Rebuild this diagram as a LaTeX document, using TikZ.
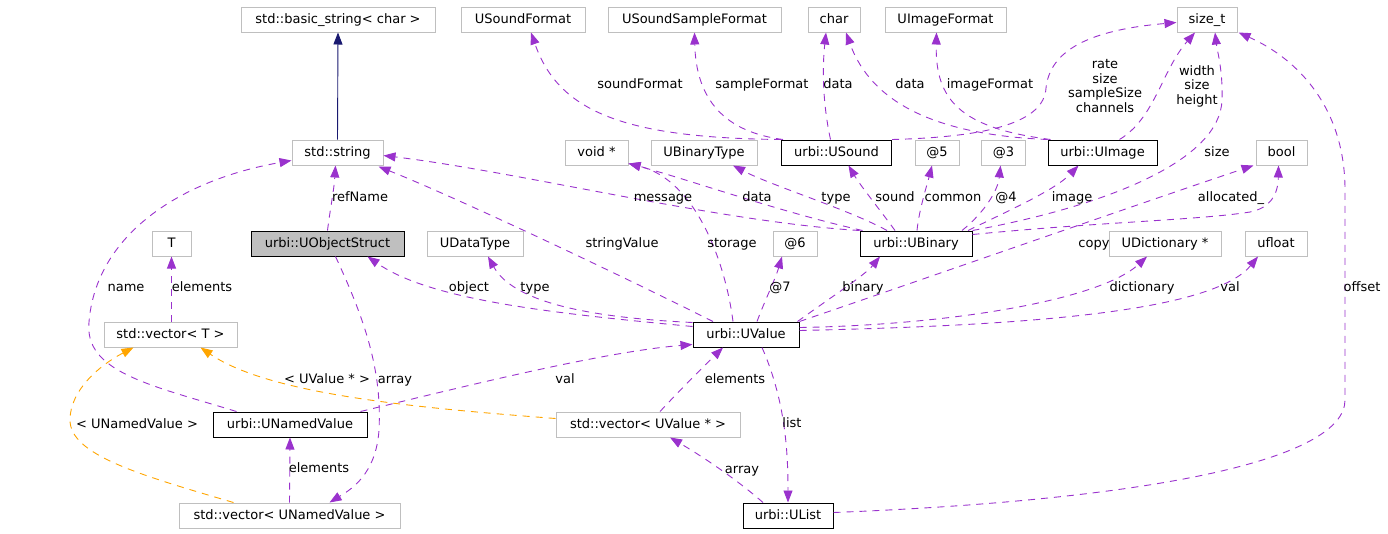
\documentclass[tikz,border=0pt]{standalone}
\usepackage{fontspec}
\setmainfont{DejaVu Sans}
\usetikzlibrary{arrows.meta}
\definecolor{edgepurple}{HTML}{9A32CD}
\definecolor{tmplorange}{HTML}{FFA500}
\definecolor{inhnavy}{HTML}{191970}
\definecolor{boxgrey}{HTML}{BFBFBF}
\begin{document}
\begin{tikzpicture}[x=1pt,y=-1pt,
  every node/.style={font=\fontsize{13}{15}\selectfont},
  cls/.style={draw=boxgrey, line width=1pt, minimum height=25pt, inner sep=0pt, text height=10pt, text depth=2pt},
  ucls/.style={cls, draw=black},
  mainc/.style={cls, draw=black, fill=boxgrey},
  lbl/.style={inner sep=0pt, text height=10pt, text depth=2pt},
  mlbl/.style={inner sep=0pt, align=center, font=\fontsize{13}{14.5}\selectfont},
  rel/.style={draw=edgepurple, line width=0.9pt, dash pattern=on 7pt off 6pt, -{Triangle[length=12pt,width=9pt]}},
  tmpl/.style={rel, draw=tmplorange},
  inh/.style={draw=inhnavy, line width=0.9pt, -{Triangle[length=12pt,width=9pt]}},
]
\useasboundingbox (0,0) rectangle (1388,533);

% row 1
\node[cls, minimum width=194pt] (bstr) at (338,19.5) {std::basic\_string< char >};
\node[cls, minimum width=124pt] (usf) at (523,19.5) {USoundFormat};
\node[cls, minimum width=173pt] (ussf) at (694.5,19.5) {USoundSampleFormat};
\node[cls, minimum width=52pt] (chr) at (834,19.5) {char};
\node[cls, minimum width=121pt] (uif) at (945.5,19.5) {UImageFormat};
\node[cls, minimum width=60pt] (szt) at (1207,19.5) {size\_t};
% row 2
\node[cls, minimum width=91pt] (str) at (337.5,152.5) {std::string};
\node[cls, minimum width=63pt] (vptr) at (596.5,152.5) {void *};
\node[cls, minimum width=106pt] (ubt) at (704,152.5) {UBinaryType};
\node[ucls, minimum width=110pt] (usnd) at (836.5,152.5) {urbi::USound};
\node[cls, minimum width=44pt] (a5) at (937,152.5) {@5};
\node[cls, minimum width=44pt] (a3) at (1003.5,152.5) {@3};
\node[ucls, minimum width=109pt] (uimg) at (1102.5,152.5) {urbi::UImage};
\node[cls, minimum width=51pt] (bool) at (1281.5,152.5) {bool};
% row 3
\node[cls, minimum width=39pt] (T) at (171.5,243.5) {T};
\node[mainc, minimum width=153pt] (uos) at (327.5,243.5) {urbi::UObjectStruct};
\node[cls, minimum width=96pt] (udt) at (475,243.5) {UDataType};
\node[cls, minimum width=44pt] (a6) at (795,243.5) {@6};
\node[ucls, minimum width=112pt] (ubin) at (916,243.5) {urbi::UBinary};
\node[cls, minimum width=112pt] (udict) at (1165,243.5) {UDictionary *};
\node[cls, minimum width=62pt] (ufl) at (1276,243.5) {ufloat};
% row 4
\node[cls, minimum width=133pt] (vecT) at (170.5,334.5) {std::vector< T >};
\node[ucls, minimum width=106pt] (uval) at (746,334.5) {urbi::UValue};
% row 5
\node[ucls, minimum width=154pt] (unv) at (290,424.5) {urbi::UNamedValue};
\node[cls, minimum width=184pt] (vecUV) at (648,424.5) {std::vector< UValue * >};
% row 6
\node[cls, minimum width=221pt] (vecUNV) at (289.5,515.5) {std::vector< UNamedValue >};
\node[ucls, minimum width=90pt] (ulist) at (788,515.5) {urbi::UList};

% inheritance
\draw[inh] (str.north) -- (bstr.south);

% USound members
\draw[rel] (usnd.north west) .. controls (620,138) and (558,110) .. ([xshift=8pt]usf.south);
\draw[rel] ([xshift=2pt]usnd.north west) .. controls (725,132) and (696,100) .. (ussf.south);
\draw[rel] ([xshift=-6pt]usnd.north) .. controls (823,105) and (822,70) .. ([xshift=-8pt]chr.south);
\draw[rel] (usnd.north east) .. controls (990,137) and (1044,122) .. (1046,88) .. controls (1050,50) and (1090,30) .. ([yshift=-3pt]szt.west);

% UImage members
\draw[rel] (uimg.north west) .. controls (940,135) and (872,105) .. ([xshift=12pt]chr.south);
\draw[rel] ([xshift=3pt]uimg.north west) .. controls (960,128) and (935,100) .. ([xshift=-9pt]uif.south);
\draw[rel] ([xshift=17pt]uimg.north) .. controls (1155,118) and (1162,70) .. ([xshift=-12pt]szt.south);

% UBinary members
\draw[rel] (ubin.north east) .. controls (1110,205) and (1220,160) .. (1222,100) .. controls (1223,70) and (1217,50) .. ([xshift=8pt]szt.south);
\draw[rel] (ubin.north west) .. controls (720,222) and (520,172) .. ([yshift=-3pt]str.east);
\draw[rel] ([xshift=3pt]ubin.north west) .. controls (780,212) and (690,180) .. ([yshift=2pt]vptr.south east);
\draw[rel] ([xshift=-29pt]ubin.north) .. controls (850,210) and (770,185) .. ([xshift=29pt]ubt.south);
\draw[rel] ([xshift=-21pt]ubin.north) .. controls (880,210) and (860,185) .. ([xshift=12pt]usnd.south);
\draw[rel] ([xshift=1pt]ubin.north) .. controls (919,210) and (927,185) .. ([xshift=-5pt]a5.south);
\draw[rel] ([xshift=46pt]ubin.north) .. controls (985,212) and (998,190) .. ([xshift=-3pt]a3.south);
\draw[rel] ([xshift=52pt]ubin.north) .. controls (1010,210) and (1055,190) .. ([xshift=-24pt]uimg.south);
\draw[rel] ([yshift=-4pt]ubin.north east) .. controls (1100,222) and (1200,220) .. (1250,212) .. controls (1270,208) and (1278,195) .. ([xshift=-3pt]bool.south);

% UValue members
\draw[rel] (uval.north east) .. controls (950,270) and (1150,200) .. ([xshift=-2pt]bool.south west);
\draw[rel] ([xshift=-33pt]uval.north) .. controls (600,265) and (450,195) .. ([xshift=-5pt,yshift=-1pt]str.south east);
\draw[rel] ([xshift=-13pt]uval.north) .. controls (725,260) and (695,180) .. ([yshift=2pt]vptr.south east);
\draw[rel] ([yshift=-5pt]uval.north west) .. controls (550,313) and (430,300) .. ([xshift=40pt]uos.south);
\draw[rel] ([yshift=-1pt]uval.north west) .. controls (600,318) and (515,305) .. ([xshift=13pt]udt.south);
\draw[rel] ([xshift=11pt]uval.north) .. controls (765,300) and (775,280) .. ([xshift=-13pt]a6.south);
\draw[rel] ([xshift=-2pt]uval.north east) .. controls (830,298) and (865,275) .. ([xshift=-36pt]ubin.south);
\draw[rel] ([yshift=-6pt]uval.north east) .. controls (950,325) and (1100,300) .. ([xshift=-18pt]udict.south);
\draw[rel] ([yshift=-9pt]uval.north east) .. controls (1000,326) and (1210,315) .. ([xshift=-18pt]ufl.south);
\draw[rel] ([xshift=16pt]uval.south) .. controls (785,400) and (788,450) .. (ulist.north);

% UNamedValue members
\draw[rel] ([xshift=-7pt]unv.north east) .. controls (450,390) and (600,352) .. ([yshift=3pt]uval.south west);
\draw[rel] ([xshift=24pt]unv.north west) .. controls (150,385) and (84,372) .. (89,322) .. controls (96,235) and (180,180) .. ([yshift=-8pt]str.west);

% vectors
\draw[rel] ([xshift=12pt]vecUV.north) .. controls (680,390) and (705,365) .. ([xshift=-23pt]uval.south);
\draw[tmpl] ([yshift=6pt]vecUV.west) .. controls (420,408) and (270,395) .. ([xshift=30pt]vecT.south);
\draw[rel] ([xshift=1pt]vecT.north) -- (T.south);
\draw[rel] (vecUNV.north) -- (unv.south);
\draw[tmpl] ([xshift=-56pt]vecUNV.north) .. controls (140,475) and (70,455) .. (70,420) .. controls (70,390) and (100,365) .. ([xshift=-37pt]vecT.south);

% UList members
\draw[rel] ([xshift=-25pt]ulist.north) .. controls (735,478) and (700,455) .. ([xshift=22pt]vecUV.south);
\draw[rel] ([yshift=3pt]ulist.east) .. controls (1150,500) and (1345,460) .. (1345,400) -- (1345,190) .. controls (1345,110) and (1300,60) .. ([xshift=1pt]szt.south east);

% UObjectStruct members
\draw[rel] (uos.north) .. controls (330,210) and (334,190) .. ([xshift=-2pt]str.south);
\draw[rel] ([xshift=8pt]uos.south) .. controls (365,320) and (382,370) .. (379,430) .. controls (376,475) and (350,490) .. ([xshift=40pt]vecUNV.north);

% labels
\node[lbl] (l1) at (640,84) {soundFormat};
\node[lbl] (l2) at (762,84) {sampleFormat};
\node[lbl] (l3) at (838,84) {data};
\node[lbl] (l4) at (910,84) {data};
\node[lbl] (l5) at (990,84) {imageFormat};
\node[mlbl] (l6) at (1105,86) {rate\\size\\sampleSize\\channels};
\node[mlbl] (l7) at (1197,86) {width\\size\\height};
\node[lbl] (l8) at (1217,152) {size};
\node[lbl] (l9) at (1362,287) {offset};
\node[lbl] (l10) at (360,197) {refName};
\node[lbl] (l11) at (126,287) {name};
\node[lbl] (l12) at (622,243) {stringValue};
\node[lbl] (l13) at (663,197) {message};
\node[lbl] (l14) at (757,197) {data};
\node[lbl] (l15) at (732,243) {storage};
\node[lbl] (l16) at (836,197) {type};
\node[lbl] (l17) at (895,197) {sound};
\node[lbl] (l18) at (953,197) {common};
\node[lbl] (l19) at (1006,197) {@4};
\node[lbl] (l20) at (1072,197) {image};
\node[lbl] (l21) at (1231,197) {allocated\_};
\node[lbl] (l22) at (1094,243) {copy};
\node[lbl] (l23) at (469,287) {object};
\node[lbl] (l24) at (535,287) {type};
\node[lbl] (l25) at (780,287) {@7};
\node[lbl] (l26) at (863,287) {binary};
\node[lbl] (l27) at (1142,287) {dictionary};
\node[lbl] (l28) at (1230,287) {val};
\node[lbl] (l29) at (565,379) {val};
\node[lbl] (l30) at (735,379) {elements};
\node[lbl] (l31) at (792,423) {list};
\node[lbl] (l32) at (742,469) {array};
\node[lbl] (l33) at (202,287) {elements};
\node[lbl] (l34) at (327,379) {< UValue * >};
\node[lbl] (l35) at (137,424) {< UNamedValue >};
\node[lbl] (l36) at (319,468) {elements};
\node[lbl] (l37) at (395,379) {array};
\end{tikzpicture}
\end{document}
